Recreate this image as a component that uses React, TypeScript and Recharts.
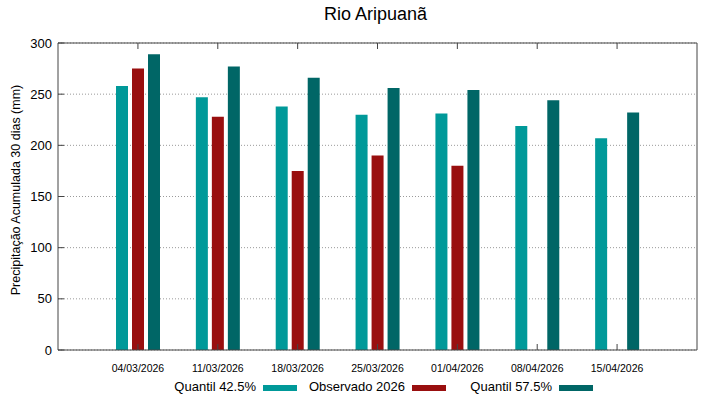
import { BarChart, Bar, XAxis, YAxis, CartesianGrid } from "recharts";

// Series colours (gnuplot-like)
const C_Q425 = "#009999";
const C_OBS = "#990F0F";
const C_Q575 = "#006666";

const dates = ["04/03/2026", "11/03/2026", "18/03/2026", "25/03/2026", "01/04/2026", "08/04/2026", "15/04/2026"];
const quantil425 = [258, 247, 238, 230, 231, 219, 207];
const observado = [275, 228, 175, 190, 180, null, null];
const quantil575 = [289, 277, 266, 256, 254, 244, 232];
const yTicks = [0, 50, 100, 150, 200, 250, 300];

const data = dates.map((d, i) => ({
  date: d,
  q425: quantil425[i],
  obs: observado[i],
  q575: quantil575[i],
}));

const FONT = "'Liberation Sans', Arial, sans-serif";
const AXIS = "#444444";

const legendItems = [
  { label: "Quantil 42.5%", color: C_Q425, x: 263 },
  { label: "Observado 2026", color: C_OBS, x: 412 },
  { label: "Quantil 57.5%", color: C_Q575, x: 559 },
];

const blank = () => "";

export default function App() {
  return (
    <div style={{ position: "absolute", left: 0, top: 0, width: 719, height: 399, background: "#fff", fontFamily: FONT }}>
      <div style={{ position: "absolute", left: 56, top: 4, width: 639, textAlign: "center", fontSize: 18, color: "#000" }}>
        Rio Aripuanã
      </div>
      <BarChart
        width={719}
        height={399}
        data={data}
        margin={{ top: 42, right: 21, bottom: 29, left: 0 }}
        barSize={12}
        barGap={4}
      >
        <CartesianGrid vertical={false} stroke="#9a9a9a" strokeDasharray="1 2" />
        <XAxis
          dataKey="date"
          padding={{ left: 40, right: 40 }}
          height={20}
          tickSize={-6}
          tickMargin={21}
          stroke={AXIS}
          tick={{ fontSize: 10.5, fill: "#000", fontFamily: FONT }}
          interval={0}
        />
        <XAxis
          xAxisId="top"
          dataKey="date"
          orientation="top"
          padding={{ left: 40, right: 40 }}
          height={1}
          tickSize={-6}
          tickFormatter={blank}
          stroke={AXIS}
          interval={0}
        />
        <YAxis
          width={58}
          domain={[0, 300]}
          ticks={yTicks}
          tickSize={-6}
          tickMargin={12}
          stroke={AXIS}
          tick={{ fontSize: 13, fill: "#000", fontFamily: FONT }}
          label={() => (
            <text
              x={17}
              y={190}
              transform="rotate(-90 17 190)"
              textAnchor="middle"
              dominantBaseline="middle"
              fontSize={12.5}
              fontFamily={FONT}
              fill="#000"
            >
              Precipitação Acumulada 30 dias (mm)
            </text>
          )}
        />
        <YAxis
          yAxisId="right"
          orientation="right"
          width={1}
          domain={[0, 300]}
          ticks={yTicks}
          tickSize={-6}
          tickFormatter={blank}
          stroke={AXIS}
        />
        <Bar dataKey="q425" fill={C_Q425} isAnimationActive={false} />
        <Bar dataKey="obs" fill={C_OBS} isAnimationActive={false} />
        <Bar dataKey="q575" fill={C_Q575} isAnimationActive={false} />
      </BarChart>
      {legendItems.map((it) => (
        <div key={it.label}>
          <div
            style={{
              position: "absolute",
              right: 719 - it.x + 7,
              top: 379,
              fontSize: 13,
              color: "#000",
              whiteSpace: "nowrap",
            }}
          >
            {it.label}
          </div>
          <div style={{ position: "absolute", left: it.x, top: 385, width: 34, height: 6, background: it.color }} />
        </div>
      ))}
    </div>
  );
}
